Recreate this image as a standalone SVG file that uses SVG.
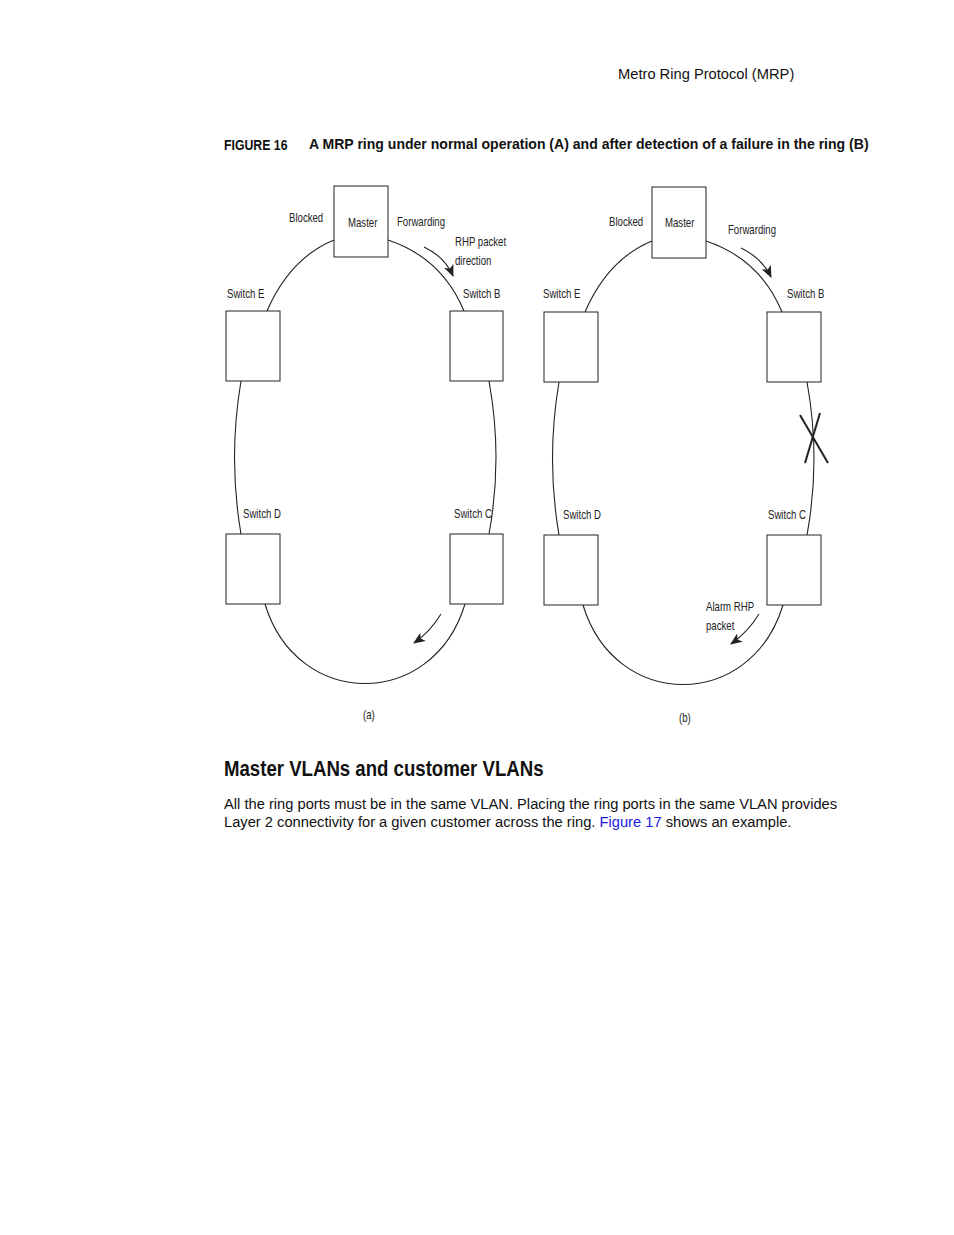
<svg xmlns="http://www.w3.org/2000/svg" width="954" height="1235" viewBox="0 0 954 1235">
<style>
.box{fill:#fff;stroke:#222;stroke-width:1}
.ring{fill:none;stroke:#222;stroke-width:1.1}
.arr{fill:none;stroke:#222;stroke-width:1.1}
.lbl{font-family:"Liberation Sans",sans-serif;font-size:13px;fill:#222}
.body{font-family:"Liberation Sans",sans-serif;font-size:14.7px;fill:#111}
</style>
<defs><marker id="ah" markerWidth="14" markerHeight="14" refX="11" refY="6" orient="auto" markerUnits="userSpaceOnUse"><path d="M0,1 L12,6 L0,11 L3,6 z" fill="#222"/></marker></defs>
<rect width="954" height="1235" fill="#fff"/>
<text x="618" y="79" class="body" font-size="14">Metro Ring Protocol (MRP)</text>
<text font-family="Liberation Sans,sans-serif" font-size="15" font-weight="bold" fill="#111" transform="translate(224,150) scale(0.82,1)">FIGURE 16</text>
<text x="309" y="149" font-family="Liberation Sans,sans-serif" font-size="14.05" font-weight="bold" fill="#111">A MRP ring under normal operation (A) and after detection of a failure in the ring (B)</text>
<g id="connectors">
<path class="ring" d="M334,240 Q290,258 267,311"/>
<path class="ring" d="M388,240 Q442,258 464,311"/>
<path class="ring" d="M241,381 Q228,458 241,534"/>
<path class="ring" d="M489,381 Q503,458 489,534"/>
<path class="ring" d="M265,604 C297,710 433,710 465,604"/>
<path class="arr" d="M424,247 Q445,257 453,276" marker-end="url(#ah)"/>
<path class="arr" d="M441,614 Q430,632 414,643" marker-end="url(#ah)"/>
<path class="ring" d="M652,241 Q608,259 585,312"/>
<path class="ring" d="M706,241 Q760,259 782,312"/>
<path class="ring" d="M559,382 Q546,459 559,535"/>
<path class="ring" d="M807,382 Q821,459 807,535"/>
<path class="ring" d="M583,605 C615,711 751,711 783,605"/>
<path class="arr" d="M741,248 Q762,258 771,277" marker-end="url(#ah)"/>
<path class="arr" d="M759,614 Q748,632 731,644" marker-end="url(#ah)"/>
<line x1="800" y1="415" x2="828" y2="463" stroke="#222" stroke-width="2"/>
<line x1="820" y1="413" x2="805" y2="463" stroke="#222" stroke-width="2"/>
</g>
<g id="a-master"><rect class="box" x="334" y="186" width="54" height="71"/><text class="lbl" transform="translate(348,227) scale(0.74,1)">Master</text></g>
<g id="a-e"><rect class="box" x="226" y="311" width="54" height="70"/><text class="lbl" transform="translate(227,298) scale(0.74,1)">Switch E</text></g>
<g id="a-b"><rect class="box" x="450" y="311" width="53" height="70"/><text class="lbl" transform="translate(463,298) scale(0.74,1)">Switch B</text></g>
<g id="a-d"><rect class="box" x="226" y="534" width="54" height="70"/><text class="lbl" transform="translate(243,518) scale(0.74,1)">Switch D</text></g>
<g id="a-c"><rect class="box" x="450" y="534" width="53" height="70"/><text class="lbl" transform="translate(454,518) scale(0.74,1)">Switch C</text></g>
<g id="a-labels">
<text class="lbl" transform="translate(289,222) scale(0.74,1)">Blocked</text>
<text class="lbl" transform="translate(397,226) scale(0.74,1)">Forwarding</text>
<text class="lbl" transform="translate(455,246) scale(0.74,1)">RHP packet</text>
<text class="lbl" transform="translate(455,265) scale(0.74,1)">direction</text>
<text class="lbl" transform="translate(363,719) scale(0.74,1)">(a)</text>
</g>
<g id="b-master"><rect class="box" x="652" y="187" width="54" height="71"/><text class="lbl" transform="translate(665,227) scale(0.74,1)">Master</text></g>
<g id="b-e"><rect class="box" x="544" y="312" width="54" height="70"/><text class="lbl" transform="translate(543,298) scale(0.74,1)">Switch E</text></g>
<g id="b-b"><rect class="box" x="767" y="312" width="54" height="70"/><text class="lbl" transform="translate(787,298) scale(0.74,1)">Switch B</text></g>
<g id="b-d"><rect class="box" x="544" y="535" width="54" height="70"/><text class="lbl" transform="translate(563,519) scale(0.74,1)">Switch D</text></g>
<g id="b-c"><rect class="box" x="767" y="535" width="54" height="70"/><text class="lbl" transform="translate(768,519) scale(0.74,1)">Switch C</text></g>
<g id="b-labels">
<text class="lbl" transform="translate(609,226) scale(0.74,1)">Blocked</text>
<text class="lbl" transform="translate(728,234) scale(0.74,1)">Forwarding</text>
<text class="lbl" transform="translate(706,611) scale(0.74,1)">Alarm RHP</text>
<text class="lbl" transform="translate(706,630) scale(0.74,1)">packet</text>
<text class="lbl" transform="translate(679,722) scale(0.74,1)">(b)</text>
</g>
<text font-family="Liberation Sans,sans-serif" font-size="23" font-weight="bold" fill="#111" transform="translate(224,776) scale(0.81,1)">Master VLANs and customer VLANs</text>
<text x="224" y="809" class="body">All the ring ports must be in the same VLAN.  Placing the ring ports in the same VLAN provides</text>
<text x="224" y="827" class="body">Layer 2 connectivity for a given customer across the ring.  <tspan fill="#1a1adc">Figure 17</tspan> shows an example.</text>
</svg>
